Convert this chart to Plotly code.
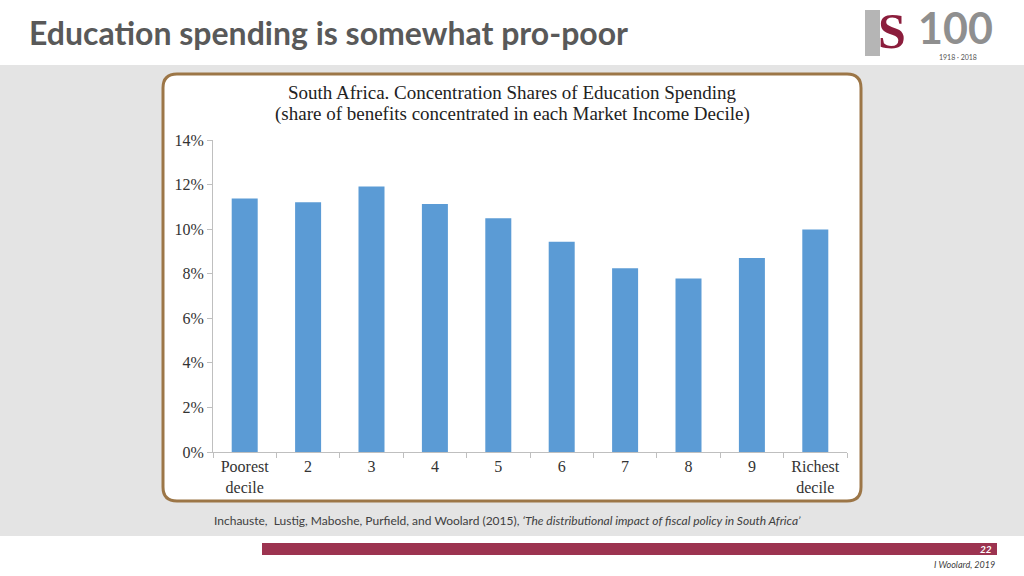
import plotly.graph_objects as go

categories = ["Poorest<br>decile", "2", "3", "4", "5", "6", "7", "8", "9", "Richest<br>decile"]
shares = [11.37, 11.21, 11.91, 11.13, 10.49, 9.43, 8.25, 7.78, 8.71, 9.98]
y_ticks = [0, 2, 4, 6, 8, 10, 12, 14]
y_tick_labels = [f"{v}%" for v in y_ticks]
chart_title_lines = ["South Africa. Concentration Shares of Education Spending",
                     "(share of benefits concentrated in each Market Income Decile)"]

W, H = 1024, 576

def px_x(x):
    return x / W

def px_y(y):
    return 1 - y / H

fig = go.Figure()
fig.add_trace(go.Bar(
    x=categories, y=shares,
    marker=dict(color="#5b9bd5", line=dict(width=0)),
    hoverinfo="skip",
))

shapes = []
# gray band
shapes.append(dict(type="rect", xref="paper", yref="paper",
                   x0=0, x1=1, y0=px_y(536), y1=px_y(65),
                   fillcolor="#e4e4e4", line=dict(width=0), layer="below"))
# rounded white box
x0, x1, y0, y1, r = 163, 861, 74, 501, 14
path = (f"M {x0+r},{y0} L {x1-r},{y0} Q {x1},{y0} {x1},{y0+r} "
        f"L {x1},{y1-r} Q {x1},{y1} {x1-r},{y1} L {x0+r},{y1} "
        f"Q {x0},{y1} {x0},{y1-r} L {x0},{y0+r} Q {x0},{y0} {x0+r},{y0} Z")
def conv(p):
    out = []
    for tok in p.split(" "):
        if "," in tok:
            a, b = tok.split(",")
            out.append(f"{px_x(float(a)):.5f},{px_y(float(b)):.5f}")
        else:
            out.append(tok)
    return " ".join(out)
shapes.append(dict(type="path", xref="paper", yref="paper", path=conv(path),
                   fillcolor="white", line=dict(color="#9c7647", width=3), layer="below"))
# maroon footer bar
shapes.append(dict(type="rect", xref="paper", yref="paper",
                   x0=px_x(262), x1=px_x(997), y0=px_y(555), y1=px_y(543),
                   fillcolor="#9c3350", line=dict(width=0), layer="below"))
# logo grey block
shapes.append(dict(type="rect", xref="paper", yref="paper",
                   x0=px_x(865), x1=px_x(880), y0=px_y(56), y1=px_y(10),
                   fillcolor="#b5b5b5", line=dict(width=0), layer="below"))

annotations = []
annotations.append(dict(text="<b>Education spending is somewhat pro-poor</b>",
                        x=px_x(27), y=px_y(32), xref="paper", yref="paper",
                        xanchor="left", yanchor="middle", showarrow=False,
                        font=dict(family="Lato", size=32, color="#595959")))
for line_text, ly in zip(chart_title_lines, [92, 114]):
    annotations.append(dict(text=line_text,
                            x=px_x(512), y=px_y(ly), xref="paper", yref="paper",
                            xanchor="center", yanchor="middle", showarrow=False,
                            font=dict(family="Liberation Serif", size=19, color="#222222")))
annotations.append(dict(text="Inchauste,  Lustig, Maboshe, Purfield, and Woolard (2015), <i>‘The distributional impact of fiscal policy in South Africa’</i>",
                        x=px_x(212), y=px_y(520), xref="paper", yref="paper",
                        xanchor="left", yanchor="middle", showarrow=False,
                        font=dict(family="Lato", size=12, color="#404040")))
annotations.append(dict(text="<b><i>22</i></b>",
                        x=px_x(994), y=px_y(549), xref="paper", yref="paper",
                        xanchor="right", yanchor="middle", showarrow=False,
                        font=dict(family="Lato", size=10, color="white")))
annotations.append(dict(text="<i>I Woolard, 2019</i>",
                        x=px_x(997), y=px_y(564), xref="paper", yref="paper",
                        xanchor="right", yanchor="middle", showarrow=False,
                        font=dict(family="Lato", size=9, color="#404040")))
# logo
annotations.append(dict(text="<b>S</b>",
                        x=px_x(892), y=px_y(31), xref="paper", yref="paper",
                        xanchor="center", yanchor="middle", showarrow=False,
                        font=dict(family="Liberation Serif", size=50, color="#8b1d3c")))
annotations.append(dict(text="<b>100</b>",
                        x=px_x(955), y=px_y(27), xref="paper", yref="paper",
                        xanchor="center", yanchor="middle", showarrow=False,
                        font=dict(family="Lato", size=43, color="#8f8f8f")))
annotations.append(dict(text="1918 · 2018",
                        x=px_x(958), y=px_y(57), xref="paper", yref="paper",
                        xanchor="center", yanchor="middle", showarrow=False,
                        font=dict(family="Lato", size=7, color="#555555")))

fig.update_layout(
    width=W, height=H,
    margin=dict(l=0, r=0, t=0, b=0, pad=0),
    paper_bgcolor="white", plot_bgcolor="white",
    showlegend=False,
    bargap=0.59,
    shapes=shapes, annotations=annotations,
    xaxis=dict(domain=[px_x(213), px_x(847)], type="category", automargin=False,
               showline=True, linecolor="#bfbfbf", linewidth=1,
               ticks="outside", tickson="boundaries", ticklen=5, tickcolor="#bfbfbf",
               showgrid=False,
               tickfont=dict(family="Liberation Serif", size=16, color="#333333")),
    yaxis=dict(domain=[px_y(452), px_y(140)], range=[0, 14], automargin=False,
               tickmode="array", tickvals=y_ticks, ticktext=y_tick_labels,
               showline=True, linecolor="#bfbfbf", linewidth=1,
               ticks="outside", ticklen=5, tickcolor="#bfbfbf",
               showgrid=False, zeroline=False,
               tickfont=dict(family="Liberation Serif", size=16, color="#333333")),
)

fig.write_html("out.html", config={"displayModeBar": False},
               post_script="document.body.style.margin='0';")
